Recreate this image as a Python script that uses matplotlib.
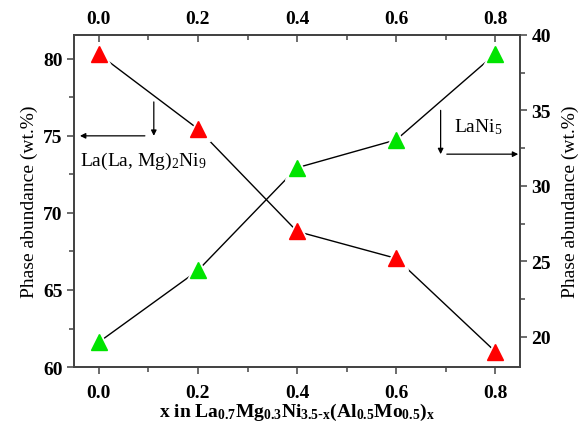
import matplotlib
matplotlib.use("Agg")  # headless
import matplotlib.pyplot as plt

# data
x = [0.0, 0.2, 0.4, 0.6, 0.8]
ni9 = [80.3, 75.45, 68.8, 67.05, 61.0]      # La(La,Mg)2Ni9, left axis
ni5 = [19.65, 24.4, 31.2, 33.05, 38.75]     # LaNi5, right axis
xticks = [0.0, 0.2, 0.4, 0.6, 0.8]
left_ticks = [60, 65, 70, 75, 80]
right_ticks = [20, 25, 30, 35, 40]

plt.rcParams["font.family"] = "serif"
plt.rcParams["font.serif"] = ["Liberation Serif", "DejaVu Serif"]
plt.rcParams["mathtext.default"] = "regular"

fig = plt.figure(figsize=(5.78, 4.27), dpi=100)
ax = fig.add_axes([0.128, 0.138, 0.772, 0.778])
ax2 = ax.twinx()


def series(a, xs, ys, color):
    a.plot(xs, ys, color="black", lw=1.0, zorder=1)
    a.plot(xs, ys, ls="none", marker="^", ms=17, color="white", zorder=2)
    a.plot(xs, ys, ls="none", marker="^", ms=11, color=color, zorder=3)


series(ax, x, ni9, "#ff0000")
series(ax2, x, ni5, "#00e400")

ax.set_xlim(-0.05, 0.85)
ax.set_ylim(60, 81.55)
ax2.set_ylim(18, 40)

ax.set_xticks(xticks)
ax.set_xticks([0.1, 0.3, 0.5, 0.7], minor=True)
ax.set_yticks(left_ticks)
ax.set_yticks([62.5, 67.5, 72.5, 77.5], minor=True)
ax2.set_yticks(right_ticks)
ax2.set_yticks([22.5, 27.5, 32.5, 37.5], minor=True)

top = ax.secondary_xaxis("top")
top.set_xticks(xticks)
top.set_xticks([0.1, 0.3, 0.5, 0.7], minor=True)

for a in (ax, ax2, top):
    a.tick_params(which="major", length=5, width=1.1, labelsize=14, pad=3, color="#444444")
    a.tick_params(which="minor", length=3.5, width=1.1, color="#444444")
    for lab in a.get_xticklabels() + a.get_yticklabels():
        lab.set_fontweight("bold")
ax.tick_params(axis="both", which="both", direction="out")
ax.tick_params(axis="x", which="major", pad=7)
ax2.tick_params(axis="y", which="both", direction="out")
top.tick_params(axis="x", which="both", direction="in", pad=6)
ax.xaxis.set_major_formatter(matplotlib.ticker.FormatStrFormatter("%.1f"))
top.xaxis.set_major_formatter(matplotlib.ticker.FormatStrFormatter("%.1f"))

for a in (ax, ax2):
    for s in a.spines.values():
        s.set_linewidth(1.3)
        s.set_color("#444444")
top.spines["top"].set_linewidth(1.3)
top.spines["top"].set_color("#444444")

ax.set_ylabel("Phase abundance (wt.%)", fontsize=14, labelpad=4)
ax2.set_ylabel("Phase abundance (wt.%)", fontsize=14, rotation=90, labelpad=8)
ax.set_xlabel(r"x in La$_{0.7}$Mg$_{0.3}$Ni$_{3.5\text{-}x}$(Al$_{0.5}$Mo$_{0.5}$)$_x$",
              fontsize=14, fontweight="bold", labelpad=0)

arrow = dict(arrowstyle="-|>", color="black", lw=0.9, mutation_scale=8,
             shrinkA=0, shrinkB=0)
# La(La,Mg)2Ni9 -> left axis
ax.annotate("", xy=(-0.038, 75.0), xytext=(0.093, 75.0), arrowprops=arrow)
ax.annotate("", xy=(0.111, 75.0), xytext=(0.111, 77.2), arrowprops=arrow)
ax.text(-0.038, 73.4, r"La(La, Mg)$_2$Ni$_9$", fontsize=14, va="center", ha="left")
# LaNi5 -> right axis
ax2.annotate("", xy=(0.6895, 32.1), xytext=(0.6895, 35.0), arrowprops=arrow)
ax2.annotate("", xy=(0.846, 32.1), xytext=(0.702, 32.1), arrowprops=arrow)
ax2.text(0.716, 33.95, r"LaNi$_5$", fontsize=14, va="center", ha="left")

fig.savefig("out.png", dpi=100)
plt.close(fig)
